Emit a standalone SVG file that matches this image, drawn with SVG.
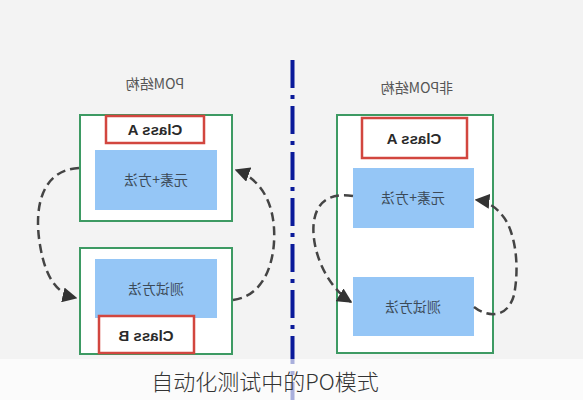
<svg xmlns="http://www.w3.org/2000/svg" width="583" height="400" viewBox="0 0 583 400">
<defs>
<style>
.bg{fill:#f3f3f3}
.outer{fill:#ffffff;stroke:#3d9a63;stroke-width:2}
.cls{fill:#ffffff;stroke:#d2463f;stroke-width:2.5}
.blue{fill:#95c6f6}
.lbl{font-family:"Noto Sans CJK SC","Noto Sans",sans-serif;font-size:14px;fill:#555;text-anchor:middle}
.ctext{font-family:"Liberation Sans","Noto Sans",sans-serif;font-size:15px;font-weight:bold;fill:#2a2a2a;text-anchor:middle}
.btext{font-family:"Noto Sans CJK SC","Noto Sans",sans-serif;font-size:14px;fill:#3c4a58;text-anchor:middle}
.conn{fill:none;stroke:#444;stroke-width:2.5;stroke-dasharray:9 5}
.cap{font-family:"Noto Sans CJK SC","Noto Sans",sans-serif;font-size:22px;font-weight:300;fill:#333;text-anchor:middle}
</style>
<marker id="ah" viewBox="0 0 10 10" refX="9" refY="5" markerWidth="6" markerHeight="6" orient="auto" markerUnits="strokeWidth">
<path d="M0,0 L10,5 L0,10 z" fill="#333"/>
</marker>
</defs>
<rect class="bg" x="0" y="0" width="583" height="400"/>
<line x1="292.5" y1="60" x2="292.5" y2="400" stroke="#0a1a9a" stroke-width="4" stroke-dasharray="28 7 4 7"/>

<g id="left-title"><text class="lbl" transform="translate(155,89) scale(-1,1)">POM结构</text></g>
<g id="right-title"><text class="lbl" transform="translate(417,93) scale(-1,1)">非POM结构</text></g>

<g id="pom-top">
<rect class="outer" x="80" y="115" width="152" height="106"/>
<rect class="cls" x="106" y="116" width="98" height="27"/>
<text class="ctext" transform="translate(155,135) scale(-1,1)">Class A</text>
<rect class="blue" x="95" y="150" width="122" height="60"/>
<text class="btext" transform="translate(156,185) scale(-1,1)">元素+方法</text>
</g>

<g id="pom-bottom">
<rect class="outer" x="80" y="248" width="152" height="106"/>
<rect class="blue" x="95" y="259" width="122" height="59"/>
<text class="btext" transform="translate(156,294) scale(-1,1)">测试方法</text>
<rect class="cls" x="99" y="316" width="95" height="37"/>
<text class="ctext" transform="translate(146,341) scale(-1,1)">Class B</text>
</g>

<g id="nonpom">
<rect class="outer" x="337" y="115" width="156" height="238"/>
<rect class="cls" x="362" y="118" width="105" height="40"/>
<text class="ctext" transform="translate(414,144) scale(-1,1)">Class A</text>
<rect class="blue" x="353" y="168" width="121" height="60"/>
<text class="btext" transform="translate(413,203) scale(-1,1)">元素+方法</text>
<rect class="blue" x="353" y="277" width="121" height="59"/>
<text class="btext" transform="translate(413,312) scale(-1,1)">测试方法</text>
</g>

<g id="connectors">
<path class="conn" d="M79,168 C40,170 34,210 40,245 C45,275 55,293 76,298" marker-end="url(#ah)"/>
<path class="conn" d="M233,300 C265,296 276,260 274,228 C272,198 258,178 236,170" marker-end="url(#ah)"/>
<path class="conn" d="M353,196 C315,190 310,220 315,245 C320,270 335,292 351,302" marker-end="url(#ah)"/>
<path class="conn" d="M474,307 C488,318 508,318 514,295 C520,265 515,230 502,215 C496,207 486,201 476,200" marker-end="url(#ah)"/>
</g>

<rect x="0" y="359" width="583" height="41" fill="#ffffff" fill-opacity="0.65"/>
<text class="cap" x="265" y="390">自动化测试中的PO模式</text>
</svg>
